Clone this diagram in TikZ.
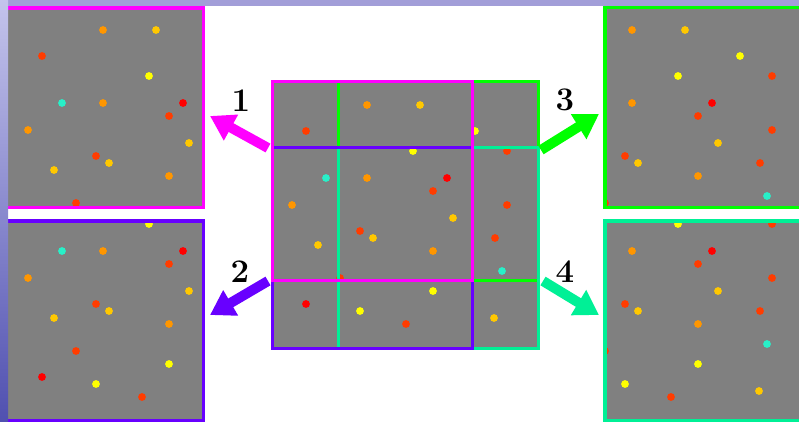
\documentclass[tikz,border=0pt]{standalone}
\usetikzlibrary{arrows.meta}
\definecolor{bgray}{RGB}{128,128,128}
\definecolor{cmag}{RGB}{255,0,255}
\definecolor{cpur}{RGB}{104,0,255}
\definecolor{cgrn}{RGB}{0,255,0}
\definecolor{cspr}{RGB}{0,240,150}
\definecolor{dred}{RGB}{255,0,0}
\definecolor{dro}{RGB}{255,60,0}
\definecolor{dor}{RGB}{255,150,0}
\definecolor{dgo}{RGB}{255,200,0}
\definecolor{dye}{RGB}{255,255,0}
\definecolor{dcy}{RGB}{40,240,200}
\definecolor{lavtop}{RGB}{162,158,216}
\definecolor{lavA}{RGB}{196,196,236}
\definecolor{lavB}{RGB}{80,80,176}
\newcommand\alldots{%
  \foreach \c/\px/\py in {
    dor/367/105, dgo/420/105, dro/306/131, dye/475/131, dye/413/151,
    dro/507/151, dcy/326/178, dor/367/178, dred/447/178, dro/433/191,
    dor/292/205, dro/507/205, dgo/453/218, dro/360/231, dgo/373/238,
    dro/495/238, dgo/318/245, dor/433/251, dcy/502/271, dro/340/278,
    dye/433/291, dred/306/304, dye/360/311, dgo/494/318, dro/406/324}
  {\fill[\c] (\px,\py) circle[radius=3.9pt];}}
\tikzset{
  pframe/.style={line width=3.3pt},
  cframe/.style={line width=3pt},
  blockarrow/.style={line width=10pt, -{Triangle[length=24pt,width=28pt]}},
  lab/.style={font=\fontsize{33}{33}\selectfont\bfseries, inner sep=0pt}
}
\begin{document}
\begin{tikzpicture}[x=1pt,y=-1pt]
\useasboundingbox (0,0) rectangle (799,421);
\fill[white] (0,0) rectangle (799,421);
% panel 1
\begin{scope}
  \clip (5,8) rectangle (203.5,207.8);
  \fill[bgray] (5,8) rectangle (203.5,207.8);
  \begin{scope}[shift={(-264,-75)}]\alldots\end{scope}
\end{scope}
\draw[pframe,cmag] (5,8) rectangle (203.5,207.8);
% panel 2
\begin{scope}
  \clip (5,221) rectangle (203.5,420.5);
  \fill[bgray] (5,221) rectangle (203.5,420.5);
  \begin{scope}[shift={(-264,73)}]\alldots\end{scope}
\end{scope}
\draw[pframe,cpur] (5,221) rectangle (203.5,420.5);
% panel 3
\begin{scope}
  \clip (605,7.7) rectangle (805,207.7);
  \fill[bgray] (605,7.7) rectangle (805,207.7);
  \begin{scope}[shift={(265,-75)}]\alldots\end{scope}
\end{scope}
\draw[pframe,cgrn] (605,7.7) rectangle (805,207.7);
% panel 4
\begin{scope}
  \clip (605,221) rectangle (805,420.5);
  \fill[bgray] (605,221) rectangle (805,420.5);
  \begin{scope}[shift={(265,73)}]\alldots\end{scope}
\end{scope}
\draw[pframe,cspr] (605,221) rectangle (805,420.5);
% central grid
\begin{scope}
  \clip (272.3,81) rectangle (538,348.3);
  \fill[bgray] (272.3,81) rectangle (538,348.3);
  \alldots
\end{scope}
\draw[cframe,cgrn] (338.7,81) rectangle (538,280.7);
\draw[cframe,cspr] (338.7,147.3) rectangle (538,348.3);
\draw[cframe,cpur] (272.3,147.3) rectangle (472,348.3);
\draw[cframe,cmag] (272.3,81) rectangle (472,280.7);
% background strips
\fill[lavtop] (0,0) rectangle (799,6);
\shade[top color=lavA, bottom color=lavB] (0,0) rectangle (8,421);
% arrows
\coordinate (a1s) at (268,148); \coordinate (a1e) at (210,116);
\coordinate (a2s) at (268,281); \coordinate (a2e) at (210,315);
\coordinate (a3s) at (541,150); \coordinate (a3e) at (599,114);
\coordinate (a4s) at (543,281); \coordinate (a4e) at (599,315);
\draw[blockarrow,cmag] (a1s) -- (a1e);
\draw[blockarrow,cpur] (a2s) -- (a2e);
\draw[blockarrow,cgrn] (a3s) -- (a3e);
\draw[blockarrow,cspr] (a4s) -- (a4e);
% labels
\node[lab] (l1) at (241,101) {1};
\node[lab] (l2) at (240,272) {2};
\node[lab] (l3) at (565,100) {3};
\node[lab] (l4) at (565,272) {4};
\end{tikzpicture}
\end{document}
